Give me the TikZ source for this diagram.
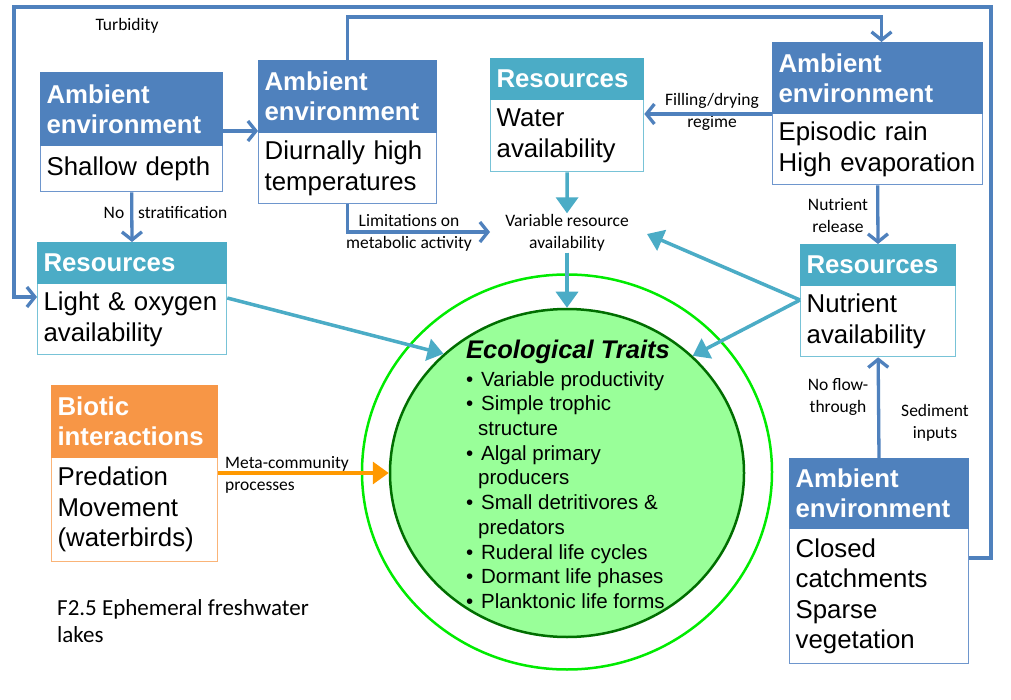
\documentclass[tikz,border=0pt]{standalone}
\usepackage{fontspec}
\setmainfont{Liberation Sans}
\newfontfamily\calib{Carlito}
\usetikzlibrary{arrows.meta,shapes.geometric,calc}
\definecolor{ambblue}{RGB}{79,129,189}
\definecolor{ambline}{RGB}{110,150,205}
\definecolor{restl}{RGB}{75,172,198}
\definecolor{resline}{RGB}{120,195,215}
\definecolor{bioor}{RGB}{247,150,70}
\definecolor{bioline}{RGB}{250,180,120}
\definecolor{arrowor}{RGB}{255,153,0}
\definecolor{lime}{RGB}{0,235,0}
\definecolor{lgreen}{RGB}{153,255,153}
\definecolor{dgreen}{RGB}{0,110,0}
\newcommand\bul{\makebox[15pt][l]{•}}
\newcommand\ind{\hspace*{12pt}}
\hyphenpenalty=10000
\exhyphenpenalty=10000
\tikzset{
  hdrbase/.style={anchor=north west, inner xsep=6pt, inner ysep=0pt, align=left,
    font=\bfseries\fontsize{25.8}{30}\selectfont, text=white},
  ambh/.style={hdrbase, fill=ambblue, draw=ambblue, line width=1pt},
  resh/.style={hdrbase, fill=restl, draw=restl, line width=1pt},
  bioh/.style={hdrbase, fill=bioor, draw=bioor, line width=1pt},
  bodybase/.style={anchor=north west, inner xsep=6pt, inner ysep=0pt, align=left,
    font=\fontsize{25.8}{30.5}\selectfont, fill=white},
  ambb/.style={bodybase, draw=ambline, line width=1.3pt},
  resb/.style={bodybase, draw=resline, line width=1.3pt},
  biob/.style={bodybase, draw=bioline, line width=1.3pt},
  lbl/.style={font=\calib\fontsize{17.5}{22}\selectfont, align=center, inner sep=1pt},
  barrow/.style={draw=ambblue, line width=3.3pt, -{Straight Barb[length=8pt,width=20pt]}},
  tarrow/.style={draw=restl, line width=3.5pt, -{Triangle[length=16pt,width=22pt]}},
  oarrow/.style={draw=arrowor, line width=3.5pt, -{Triangle[length=16pt,width=22pt]}},
}
\begin{document}
\begin{tikzpicture}[x=1pt,y=-1pt]
\useasboundingbox (0,0) rectangle (1011,700);
\fill[white] (0,0) rectangle (1011,700);

% circles
\node[ellipse, draw=lime, line width=2.5pt, minimum width=410pt, minimum height=395pt] (outer) at (567,472) {};
\node[ellipse, draw=dgreen, fill=lgreen, line width=2.5pt, minimum width=354pt, minimum height=328pt] (inner) at (567,473) {};
\node[font=\bfseries\itshape\fontsize{25.5}{30}\selectfont] (ttl) at (568,352) {Ecological Traits};
\node[anchor=west, align=left, inner sep=0pt, font=\fontsize{20.5}{24.67}\selectfont] (list) at (466,490)
 {\bul Variable productivity\\
  \bul Simple trophic\\
  \ind structure\\
  \bul Algal primary\\
  \ind producers\\
  \bul Small detritivores \&\\
  \ind predators\\
  \bul Ruderal life cycles\\
  \bul Dormant life phases\\
  \bul Planktonic life forms};

% boxes
\node[ambb, text width=170pt, minimum height=46pt] (shB) at (40,145) {Shallow depth};
\node[ambh, text width=170pt, minimum height=73pt] (shH) at (40,72) {Ambient\\environment};
\node[ambb, text width=166pt, minimum height=71pt] (diuB) at (258,132) {Diurnally high\\temperatures};
\node[ambh, text width=166pt, minimum height=72pt] (diuH) at (258,60) {Ambient\\environment};
\node[resb, text width=177pt, minimum height=71pt] (lightB) at (37,283) {Light \& oxygen\\availability};
\node[resh, text width=177pt, minimum height=41pt] (lightH) at (37,242) {Resources};
\node[resb, text width=141pt, minimum height=72pt] (waterB) at (490,99) {Water\\availability};
\node[resh, text width=141pt, minimum height=41pt] (waterH) at (490,58) {Resources};
\node[ambb, text width=198pt, minimum height=71pt] (epiB) at (772,113) {Episodic rain\\High evaporation};
\node[ambh, text width=198pt, minimum height=71pt] (epiH) at (772,42) {Ambient\\environment};
\node[resb, text width=143pt, minimum height=71pt] (nutB) at (800,285) {Nutrient\\availability};
\node[resh, text width=143pt, minimum height=41pt] (nutH) at (800,244) {Resources};
\node[ambb, text width=167pt, minimum height=135pt] (brB) at (789,528) {Closed\\catchments\\Sparse\\vegetation};
\node[ambh, text width=167pt, minimum height=70pt] (brH) at (789,458) {Ambient\\environment};
\node[biob, text width=154pt, minimum height=104pt] (bioB) at (51,457) {Predation\\Movement\\(waterbirds)};
\node[bioh, text width=154pt, minimum height=72pt] (bioH) at (51,385) {Biotic\\interactions};

% labels
\node[lbl] (turb) at (127,26) {Turbidity};
\node[lbl] (nostr1) at (114,213) {No};
\node[lbl, anchor=west] (nostr2) at (137,213) {stratification};
\node[lbl] (lim) at (409,233) {Limitations on\\metabolic activity};
\node[lbl] (var) at (567,233) {Variable resource\\availability};
\node[lbl] (fill) at (712,112) {Filling/drying\\regime};
\node[lbl] (nrel) at (838,216) {Nutrient\\release};
\node[lbl] (noflow) at (838,397) {No flow-\\through};
\node[lbl] (sed) at (935,423) {Sediment\\inputs};
\node[lbl, align=left, anchor=west] (meta) at (224,475) {Meta-community\\processes};
\node[font=\calib\fontsize{23}{27}\selectfont, align=left, anchor=west, inner sep=0pt] (cap) at (57,621) {F2.5 Ephemeral freshwater\\lakes};

% coordinates for free ends / corners
\coordinate (lpTR) at (991,7);
\coordinate (lpTL) at (14,7);
\coordinate (tl) at (600,17);
\coordinate (limtip) at (490,232);
\coordinate (vtip) at (647,234);

% blue connectors
\draw[barrow] ([yshift=-30pt]brB.north east) -| (lpTR) -- (lpTL) |- ([yshift=-14pt]lightB.north west);
\draw[barrow] (diuH.north) |- (tl) -| ([xshift=4pt]epiH.north);
\draw[barrow] ([yshift=-59pt]shH.north east) -- ([yshift=-71pt]diuH.north west);
\draw[barrow] (shB.south) -- (lightH.north);
\draw[barrow] (diuB.south) |- (limtip);
\draw[barrow] (epiH.south west) -- (epiH.south west -| waterB.east);
\draw[barrow] (epiB.south) -- (nutH.north);
\draw[barrow] (brH.north) -- (nutB.south);

% teal connectors
\draw[tarrow] (waterB.south) -- (var.north);
\draw[tarrow] (var.south) -- (inner.north);
\draw[tarrow] ([yshift=-15pt]lightB.north east) -- (inner.136);
\draw[tarrow] ([yshift=-15pt]nutB.north west) -- (vtip);
\draw[tarrow] ([yshift=-15pt]nutB.north west) -- (inner.43);

% orange connector
\draw[oarrow] ([yshift=-16pt]bioB.north east) -- (inner.west);
\end{tikzpicture}
\end{document}
